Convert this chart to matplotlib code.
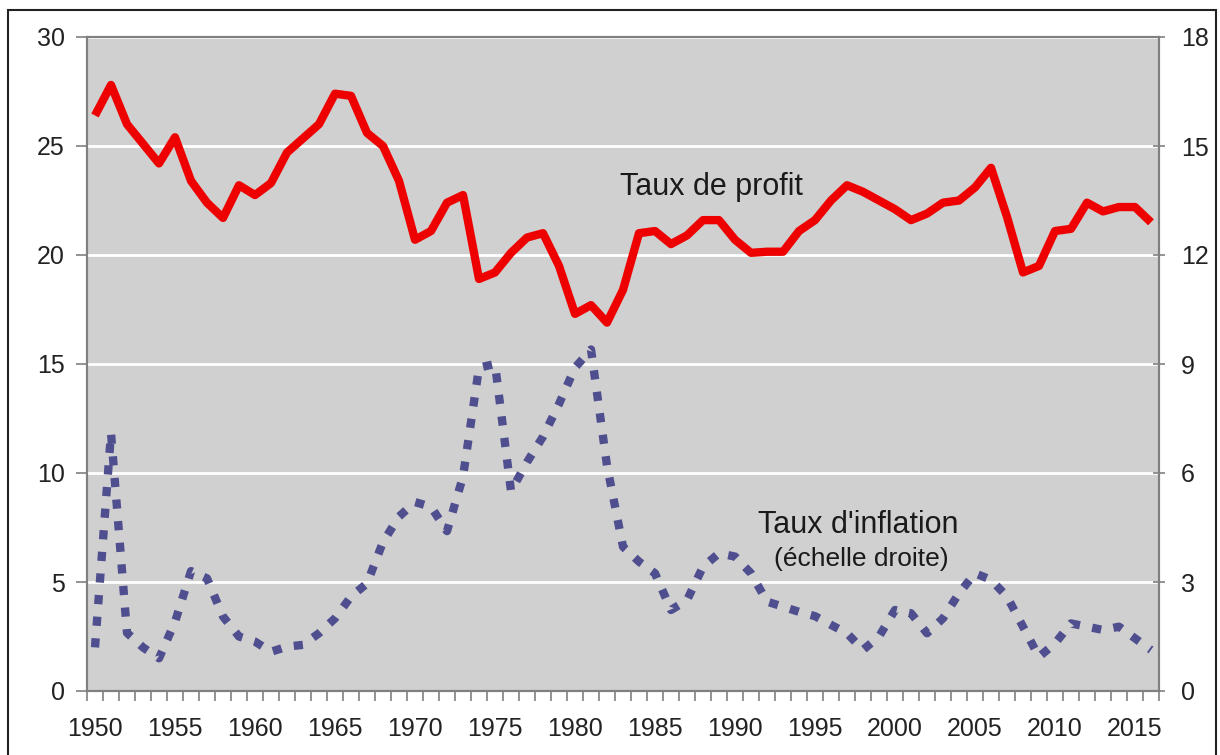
import matplotlib
matplotlib.use('Agg')
import matplotlib.pyplot as plt
import numpy as np
from matplotlib.patches import Rectangle

plt.rcParams['font.family'] = ['Liberation Sans', 'DejaVu Sans']

# Années 1950-2016
annees = list(range(1950, 2017))

# Taux de profit (échelle gauche, %)
taux_profit = [26.4, 27.8, 26.0, 25.1, 24.2, 25.4, 23.4, 22.4, 21.7, 23.2,
               22.75, 23.3, 24.7, 25.35, 26.0, 27.4, 27.3, 25.6, 25.0, 23.4,
               20.7, 21.1, 22.4, 22.75, 18.9, 19.2, 20.1, 20.8, 21.0, 19.5,
               17.3, 17.7, 16.9, 18.4, 21.0, 21.1, 20.5, 20.9, 21.6, 21.6,
               20.7, 20.1, 20.15, 20.15, 21.1, 21.6, 22.5, 23.2, 22.9, 22.5,
               22.1, 21.6, 21.9, 22.4, 22.5, 23.1, 24.0, 21.75, 19.2, 19.5,
               21.1, 21.2, 22.4, 22.0, 22.2, 22.2, 21.5]

# Taux d'inflation (échelle droite, %)
taux_inflation = [1.2, 7.1, 1.6, 1.2, 0.9, 1.9, 3.3, 3.1, 2.05, 1.5,
                  1.36, 1.08, 1.22, 1.27, 1.59, 2.0, 2.6, 2.96, 4.1, 4.8,
                  5.2, 5.07, 4.4, 5.9, 8.9, 9.0, 5.5, 6.3, 7.0, 7.9,
                  8.9, 9.4, 6.2, 3.97, 3.56, 3.24, 2.23, 2.5, 3.42, 3.79,
                  3.7, 3.24, 2.46, 2.32, 2.18, 2.06, 1.82, 1.59, 1.13, 1.5,
                  2.23, 2.14, 1.59, 2.0, 2.69, 3.24, 3.06, 2.6, 1.77, 0.94,
                  1.31, 1.86, 1.77, 1.68, 1.77, 1.45, 1.13]

labels_annees = list(range(1950, 2016, 5))

fig = plt.figure(figsize=(12.2, 7.55), dpi=100)
ax = fig.add_axes([87/1220, 64/755, (1159-87)/1220, (691-37)/755])
ax2 = ax.twinx()

ax.set_facecolor('#d0d0d0')
ax.set_zorder(ax2.get_zorder() - 1)
ax2.patch.set_visible(False)

# grille blanche
for v in range(5, 31, 5):
    ax.axhline(v, color='white', lw=2, zorder=1)

ax.plot(annees, taux_profit, color='#ee0000', lw=6, solid_joinstyle='round',
        solid_capstyle='butt', zorder=3)
ax2.plot(annees, taux_inflation, color='#4f4f8f', lw=6,
         linestyle=(0, (1.1, 1.5)), dash_capstyle='butt', zorder=3)

ax.set_xlim(1949.5, 2016.5)
ax.set_ylim(0, 30)
ax2.set_ylim(0, 18)
ax.set_yticks(range(0, 31, 5))
ax2.set_yticks(range(0, 19, 3))
ax.set_xticks(labels_annees)
ax.set_xticks(np.arange(1949.5, 2017, 1), minor=True)
ax.set_xticklabels([str(a) for a in labels_annees])

ax.tick_params(axis='x', which='major', length=0, pad=19, labelsize=18, labelcolor='#222222')
ax.tick_params(axis='x', which='minor', length=7, width=1.2, color='#808080', direction='out')
ax.tick_params(axis='y', length=8, width=1.2, color='#808080', pad=8, labelsize=18, labelcolor='#222222')
ax2.tick_params(axis='y', length=8, width=1.2, color='#808080', direction='inout', pad=12,
                labelsize=18, labelcolor='#222222')

for a in (ax, ax2):
    for s in a.spines.values():
        s.set_color('#808080')
        s.set_linewidth(1.5)

ax.text(1988.5, 23.1, 'Taux de profit', fontsize=22, color='#1a1a1a',
        ha='center', va='center', zorder=4)
ax.text(1997.7, 7.6, "Taux d'inflation", fontsize=22, color='#1a1a1a',
        ha='center', va='center', zorder=4)
ax.text(1997.9, 6.05, '(échelle droite)', fontsize=19, color='#1a1a1a',
        ha='center', va='center', zorder=4)

# cadre extérieur
fig.patches.append(Rectangle((8/1220, -0.01), (1216-8)/1220, (745 + 7.55)/755,
                             transform=fig.transFigure, fill=False,
                             edgecolor='#222222', lw=1.5))

fig.savefig('out.png', dpi=100)
